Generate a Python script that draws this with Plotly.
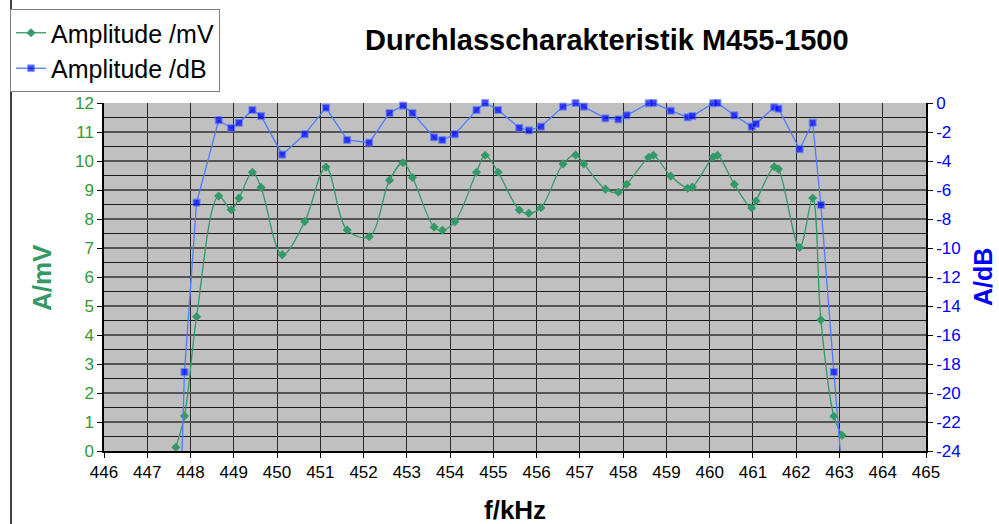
import plotly.graph_objects as go

# ---- data ----
freq_khz = [447.66, 447.86, 448.14, 448.65, 448.94, 449.12, 449.43, 449.63, 450.12, 450.64,
            451.13, 451.62, 452.13, 452.60, 452.91, 453.13, 453.63, 453.82, 454.11, 454.61,
            454.81, 455.11, 455.60, 455.82, 456.10, 456.61, 456.90, 457.09, 457.59, 457.89,
            458.08, 458.59, 458.70, 459.10, 459.49, 459.60, 460.08, 460.18, 460.57, 460.97,
            461.07, 461.49, 461.59, 462.08, 462.38, 462.57, 462.87, 463.06]
amp_mv = [0.13, 1.21, 4.63, 8.79, 8.32, 8.72, 9.61, 9.09, 6.77, 7.91,
          9.79, 7.62, 7.39, 9.34, 9.94, 9.43, 7.72, 7.61, 7.91, 9.61,
          10.20, 9.61, 8.31, 8.20, 8.39, 9.90, 10.21, 9.90, 9.03, 8.92,
          9.20, 10.13, 10.20, 9.48, 9.06, 9.10, 10.14, 10.20, 9.20, 8.38,
          8.62, 9.80, 9.72, 7.02, 8.72, 4.52, 1.20, 0.54]
amp_db = [-38.0, -18.55, -6.87, -1.19, -1.72, -1.36, -0.48, -0.90, -3.56, -2.16,
          -0.32, -2.55, -2.74, -0.69, -0.18, -0.69, -2.37, -2.55, -2.16, -0.48,
          0.0, -0.48, -1.72, -1.89, -1.63, -0.25, 0.0, -0.25, -1.06, -1.13,
          -0.85, -0.02, 0.0, -0.53, -0.99, -0.90, -0.02, 0.0, -0.85, -1.63,
          -1.43, -0.30, -0.39, -3.19, -1.36, -7.03, -18.55, -25.5]

x_ticks = list(range(446, 466))
mv_ticks = list(range(0, 13))
db_ticks = list(range(-24, 1, 2))

GREEN = "#339966"
GREEN_TXT = "#339933"
BLUE = "#0000FF"
BLUE_LINE = "#4F7BFF"
FONT = "Liberation Sans, Arial, sans-serif"

W, H = 999, 524
L, R, T, B = 104, 926, 103, 451

def px_x(p):
    return (p - L) / (R - L)

def px_y(p):
    return (B - p) / (B - T)

fig = go.Figure()
fig.add_trace(go.Scatter(
    x=freq_khz, y=amp_mv, name="Amplitude /mV", mode="lines+markers",
    line=dict(color=GREEN, width=1.3, shape="spline", smoothing=1.0),
    marker=dict(symbol="diamond", size=7, color=GREEN),
    cliponaxis=False,
))
db_sizes = [7 if -24 <= v <= 0 else 0 for v in amp_db]
fig.add_trace(go.Scatter(
    x=freq_khz, y=amp_db, name="Amplitude /dB", mode="lines+markers", yaxis="y2",
    line=dict(color=BLUE_LINE, width=1.3),
    marker=dict(symbol="square", size=db_sizes, color=BLUE),
    cliponaxis=False,
))

fig.update_layout(
    width=W, height=H,
    margin=dict(l=L, r=W - R, t=T, b=H - B, pad=0, autoexpand=False),
    paper_bgcolor="white", plot_bgcolor="#C0C0C0",
    font=dict(family=FONT, size=17, color="black"),
    showlegend=True,
    legend=dict(
        x=px_x(10), y=px_y(9), xanchor="left", yanchor="top",
        bgcolor="white", bordercolor="#808080", borderwidth=1,
        font=dict(size=25, family=FONT, color="black"),
        tracegroupgap=0, itemwidth=30,
    ),
    xaxis=dict(
        range=[446, 465], tickvals=x_ticks, ticktext=[str(v) for v in x_ticks],
        showgrid=True, gridcolor="#2a2a2a", gridwidth=1,
        showline=True, linecolor="black", linewidth=1.5,
        ticks="outside", ticklen=5, tickcolor="black",
        tickfont=dict(size=17, color="black"), zeroline=False,
    ),
    yaxis=dict(
        range=[0, 12], tickvals=mv_ticks, ticktext=[str(v) for v in mv_ticks],
        showgrid=True, gridcolor="#555555", gridwidth=2,
        minor=dict(dtick=0.5, showgrid=True, gridcolor="#1a1a1a", gridwidth=1),
        showline=True, linecolor="black", linewidth=1.5,
        ticks="outside", ticklen=5, tickcolor="black",
        tickfont=dict(size=17, color=GREEN_TXT), zeroline=False,
    ),
    yaxis2=dict(
        range=[-24, 0], tickvals=db_ticks, ticktext=[str(v) for v in db_ticks],
        overlaying="y", side="right", showgrid=False,
        showline=True, linecolor="black", linewidth=1.5,
        ticks="outside", ticklen=5, tickcolor="black",
        tickfont=dict(size=17, color=BLUE), zeroline=False,
    ),
    annotations=[
        dict(text="<b>Durchlasscharakteristik M455-1500</b>", x=px_x(607), y=px_y(40),
             xref="paper", yref="paper", showarrow=False,
             font=dict(size=29, color="black", family=FONT), xanchor="center", yanchor="middle"),
        dict(text="<b>A/mV</b>", x=px_x(42), y=px_y(277), xref="paper", yref="paper",
             showarrow=False, textangle=-90,
             font=dict(size=26, color=GREEN, family=FONT), xanchor="center", yanchor="middle"),
        dict(text="<b>A/dB</b>", x=px_x(983), y=px_y(277), xref="paper", yref="paper",
             showarrow=False, textangle=-90,
             font=dict(size=25, color=BLUE, family=FONT), xanchor="center", yanchor="middle"),
        dict(text="<b>f/kHz</b>", x=px_x(515), y=px_y(510), xref="paper", yref="paper",
             showarrow=False,
             font=dict(size=26, color="black", family=FONT), xanchor="center", yanchor="middle"),
    ],
    shapes=[
        dict(type="line", xref="paper", yref="paper",
             x0=px_x(11), x1=px_x(11), y0=px_y(0), y1=px_y(524),
             line=dict(color="black", width=1.5)),
    ],
)

fig.write_html("out.html", config={"displayModeBar": False},
               post_script="document.body.style.margin='0';")
